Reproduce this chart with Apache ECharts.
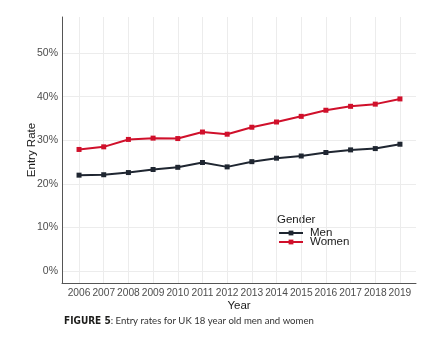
<!DOCTYPE html>
<html>
<head>
<meta charset="utf-8">
<script src="https://cdn.jsdelivr.net/npm/echarts@6/dist/echarts.min.js"></script>
<style>
  html, body { margin: 0; padding: 0; background: #fff; }
  #chart { width: 437px; height: 345px; }
</style>
</head>
<body>
<div id="chart"></div>
<script>
// Entry rates (%) for UK 18 year olds, by gender
const years = [2006, 2007, 2008, 2009, 2010, 2011, 2012, 2013, 2014, 2015, 2016, 2017, 2018, 2019];
const men   = [22.0, 22.1, 22.6, 23.3, 23.8, 24.9, 23.9, 25.1, 25.9, 26.4, 27.2, 27.8, 28.1, 29.1];
const women = [27.9, 28.5, 30.2, 30.5, 30.4, 31.9, 31.4, 33.0, 34.2, 35.5, 36.9, 37.8, 38.3, 39.5];
const yTicks = [0, 10, 20, 30, 40, 50];

const axisFont = 'Liberation Sans';
const chart = echarts.init(document.getElementById('chart'), null, { renderer: 'canvas' });

const pairs = arr => years.map((y, i) => [y, arr[i]]);

chart.setOption({
  animation: false,
  backgroundColor: '#ffffff',
  grid: { left: 62, right: 21, top: 17, bottom: 62, containLabel: false },
  xAxis: {
    type: 'value',
    min: 2005.31,
    max: 2019.65,
    name: 'Year',
    nameLocation: 'middle',
    nameGap: 17,
    nameMoveOverlap: false,
    nameTextStyle: { fontFamily: axisFont, fontSize: 11.5, color: '#1a1a1a' },
    axisLine: { show: true, onZero: false, lineStyle: { color: '#555555', width: 1 } },
    axisTick: { show: false, customValues: years },
    axisLabel: {
      customValues: years,
      hideOverlap: false,
      showMinLabel: true,
      showMaxLabel: true,
      formatter: v => String(Math.round(v)),
      fontFamily: axisFont, fontSize: 10.2, color: '#4d4d4d', margin: 5
    },
    splitLine: { show: true, lineStyle: { color: '#ececec', width: 1 } }
  },
  yAxis: {
    type: 'value',
    min: -2.75,
    max: 58.3,
    name: 'Entry Rate',
    nameLocation: 'middle',
    nameGap: 24,
    nameMoveOverlap: false,
    nameRotate: 90,
    nameTextStyle: { fontFamily: axisFont, fontSize: 11.5, color: '#1a1a1a' },
    axisLine: { show: true, onZero: false, lineStyle: { color: '#555555', width: 1 } },
    axisTick: { show: false, customValues: yTicks },
    axisLabel: {
      customValues: yTicks,
      formatter: v => Math.round(v) + '%',
      fontFamily: axisFont, fontSize: 10.5, color: '#4d4d4d', margin: 4
    },
    splitLine: { show: true, lineStyle: { color: '#ececec', width: 1 } }
  },
  legend: {
    orient: 'vertical',
    left: 273,
    top: 222,
    itemWidth: 24,
    itemHeight: 6,
    itemGap: -3,
    textStyle: { fontFamily: axisFont, fontSize: 11.5, color: '#1a1a1a', padding: [0, 0, 0, 2] },
    data: ['Men', 'Women']
  },
  graphic: [
    {
      type: 'text', left: 277, top: 214,
      style: { text: 'Gender', fontFamily: axisFont, fontSize: 11.5, fill: '#1a1a1a' }
    },
    {
      type: 'text', left: 64, top: 316,
      style: {
        text: '{b|FIGURE 5}{r|: Entry rates for UK 18 year old men and women}',
        rich: {
          b: { fontFamily: '"DejaVu Sans Condensed", Roboto', fontWeight: 'bold', fontSize: 10, fill: '#1d1d1b' },
          r: { fontFamily: 'Lato', fontSize: 9.6, fill: '#333333' }
        }
      }
    }
  ],
  series: [
    {
      name: 'Men', type: 'line', data: pairs(men),
      symbol: 'rect', symbolSize: 5,
      lineStyle: { color: '#1f2631', width: 2 },
      itemStyle: { color: '#1f2631' }
    },
    {
      name: 'Women', type: 'line', data: pairs(women),
      symbol: 'rect', symbolSize: 5,
      lineStyle: { color: '#d0102b', width: 2 },
      itemStyle: { color: '#d0102b' }
    }
  ]
});
</script>
</body>
</html>
